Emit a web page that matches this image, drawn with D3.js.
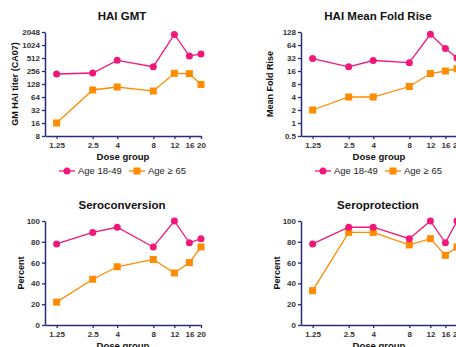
<!DOCTYPE html>
<html><head><meta charset="utf-8">
<script src="https://cdn.jsdelivr.net/npm/d3@7"></script>
<style>body{margin:0;background:#fff;} svg{display:block;font-family:"Liberation Sans",Arial,sans-serif;}</style>
</head><body>
<script>
const doses = [1.25, 2.5, 4, 8, 12, 16, 20];
const doseLabels = ["1.25", "2.5", "4", "8", "12", "16", "20"];
const seriesNames = ["Age 18-49", "Age \u2265 65"];
const gmtYoung = [218, 230, 452, 322, 1800, 568, 635];
const gmtOld = [16, 93, 109, 88, 226, 222, 125];
const mfrYoung = [31, 20, 28, 25, 113, 53, 32];
const mfrOld = [2, 4, 4, 7, 14, 16, 18];
const scYoung = [78, 89, 94, 75, 100, 79, 83];
const scOld = [22, 44, 56, 63, 50, 60, 75];
const spYoung = [78, 94, 94, 83, 100, 79, 100];
const spOld = [33, 89, 89, 77, 83, 67, 75];
const gmtTicks = [8, 16, 32, 64, 128, 256, 512, 1024, 2048];
const mfrTicks = [0.5, 1, 2, 4, 8, 16, 32, 64, 128];
const pctTicks = [0, 20, 40, 60, 80, 100];

const pink = "#f0187a", orange = "#ff8c00", axisCol = "#2b2b7a";
const W = 456, H = 347;
const svg = d3.select("body").append("svg").attr("width", W).attr("height", H);

const panels = [
  {x0: 45, y0: 32, y1: 136, title: "HAI GMT", ytitle: "GM HAI titer (CA07)", log: true, ticks: gmtTicks, dom: [8, 2048], a: gmtYoung, b: gmtOld, legend: true, ytx: 16},
  {x0: 301, y0: 32, y1: 136, title: "HAI Mean Fold Rise", ytitle: "Mean Fold Rise", log: true, ticks: mfrTicks, dom: [0.5, 128], a: mfrYoung, b: mfrOld, legend: true, ytx: 271},
  {x0: 45, y0: 221, y1: 325, title: "Seroconversion", ytitle: "Percent", log: false, ticks: pctTicks, dom: [0, 100], a: scYoung, b: scOld, legend: false, ytx: 22},
  {x0: 301, y0: 221, y1: 325, title: "Seroprotection", ytitle: "Percent", log: false, ticks: pctTicks, dom: [0, 100], a: spYoung, b: spOld, legend: false, ytx: 278}
];

panels.forEach(p => {
  const x = d3.scaleLog().domain([1, 20]).range([p.x0, p.x0 + 156]);
  const y = (p.log ? d3.scaleLog().base(2) : d3.scaleLinear()).domain(p.dom).range([p.y1, p.y0]);
  const g = svg.append("g");

  // title
  g.append("text").attr("x", p.x0 + 77).attr("y", p.y0 - 12).attr("text-anchor", "middle")
    .attr("font-size", 11.5).attr("font-weight", "bold").attr("fill", "#111").text(p.title);

  // y axis
  const ya = g.append("g").attr("transform", `translate(${p.x0},0)`)
    .call(d3.axisLeft(y).tickValues(p.ticks).tickFormat(d => String(d)).tickSize(3).tickPadding(2).tickSizeOuter(0));
  // x axis
  const xa = g.append("g").attr("transform", `translate(0,${p.y1})`)
    .call(d3.axisBottom(x).tickValues(doses).tickFormat((d, i) => doseLabels[i]).tickSize(3).tickPadding(3).tickSizeOuter(0));
  [ya, xa].forEach(a => {
    a.select(".domain").attr("stroke", axisCol).attr("stroke-width", 1.5);
    a.selectAll(".tick line").attr("stroke", axisCol).attr("stroke-width", 1.3);
    a.selectAll(".tick text").attr("font-size", 8).attr("font-weight", "bold").attr("fill", "#333")
      .attr("font-family", "Liberation Sans, Arial, sans-serif");
  });

  // axis titles
  g.append("text").attr("x", p.x0 + 78).attr("y", p.y1 + 24).attr("text-anchor", "middle")
    .attr("font-size", 9.5).attr("font-weight", "bold").attr("fill", "#111").text("Dose group");
  g.append("text").attr("transform", `translate(${p.ytx},${(p.y0 + p.y1) / 2}) rotate(-90)`)
    .attr("text-anchor", "middle").attr("dominant-baseline", "middle")
    .attr("font-size", 9).attr("font-weight", "bold").attr("fill", "#111").text(p.ytitle);

  const line = d3.line().x((d, i) => x(doses[i])).y(d => y(d));
  [[p.b, orange, "sq"], [p.a, pink, "ci"]].forEach(([vals, col, shape]) => {
    g.append("path").datum(vals).attr("d", line).attr("fill", "none").attr("stroke", col).attr("stroke-width", 1.3);
    vals.forEach((v, i) => {
      if (shape === "ci") g.append("circle").attr("cx", x(doses[i])).attr("cy", y(v)).attr("r", 3.5).attr("fill", col);
      else g.append("rect").attr("x", x(doses[i]) - 3.5).attr("y", y(v) - 3.5).attr("width", 7).attr("height", 7).attr("fill", col);
    });
  });

  if (p.legend) {
    const ly = 171, lx = p.x0 + 15;
    const items = [{c: pink, s: "ci", t: seriesNames[0], dx: 0}, {c: orange, s: "sq", t: seriesNames[1], dx: 70}];
    items.forEach(it => {
      const cx = lx + it.dx + 7;
      g.append("line").attr("x1", cx - 8).attr("x2", cx + 8).attr("y1", ly).attr("y2", ly).attr("stroke", it.c).attr("stroke-width", 1.3);
      if (it.s === "ci") g.append("circle").attr("cx", cx).attr("cy", ly).attr("r", 3.5).attr("fill", it.c);
      else g.append("rect").attr("x", cx - 3.5).attr("y", ly - 3.5).attr("width", 7).attr("height", 7).attr("fill", it.c);
      g.append("text").attr("x", cx + 11).attr("y", ly).attr("dominant-baseline", "middle")
        .attr("font-size", 9.5).attr("fill", "#222").text(it.t);
    });
  }
});
</script>
</body></html>
